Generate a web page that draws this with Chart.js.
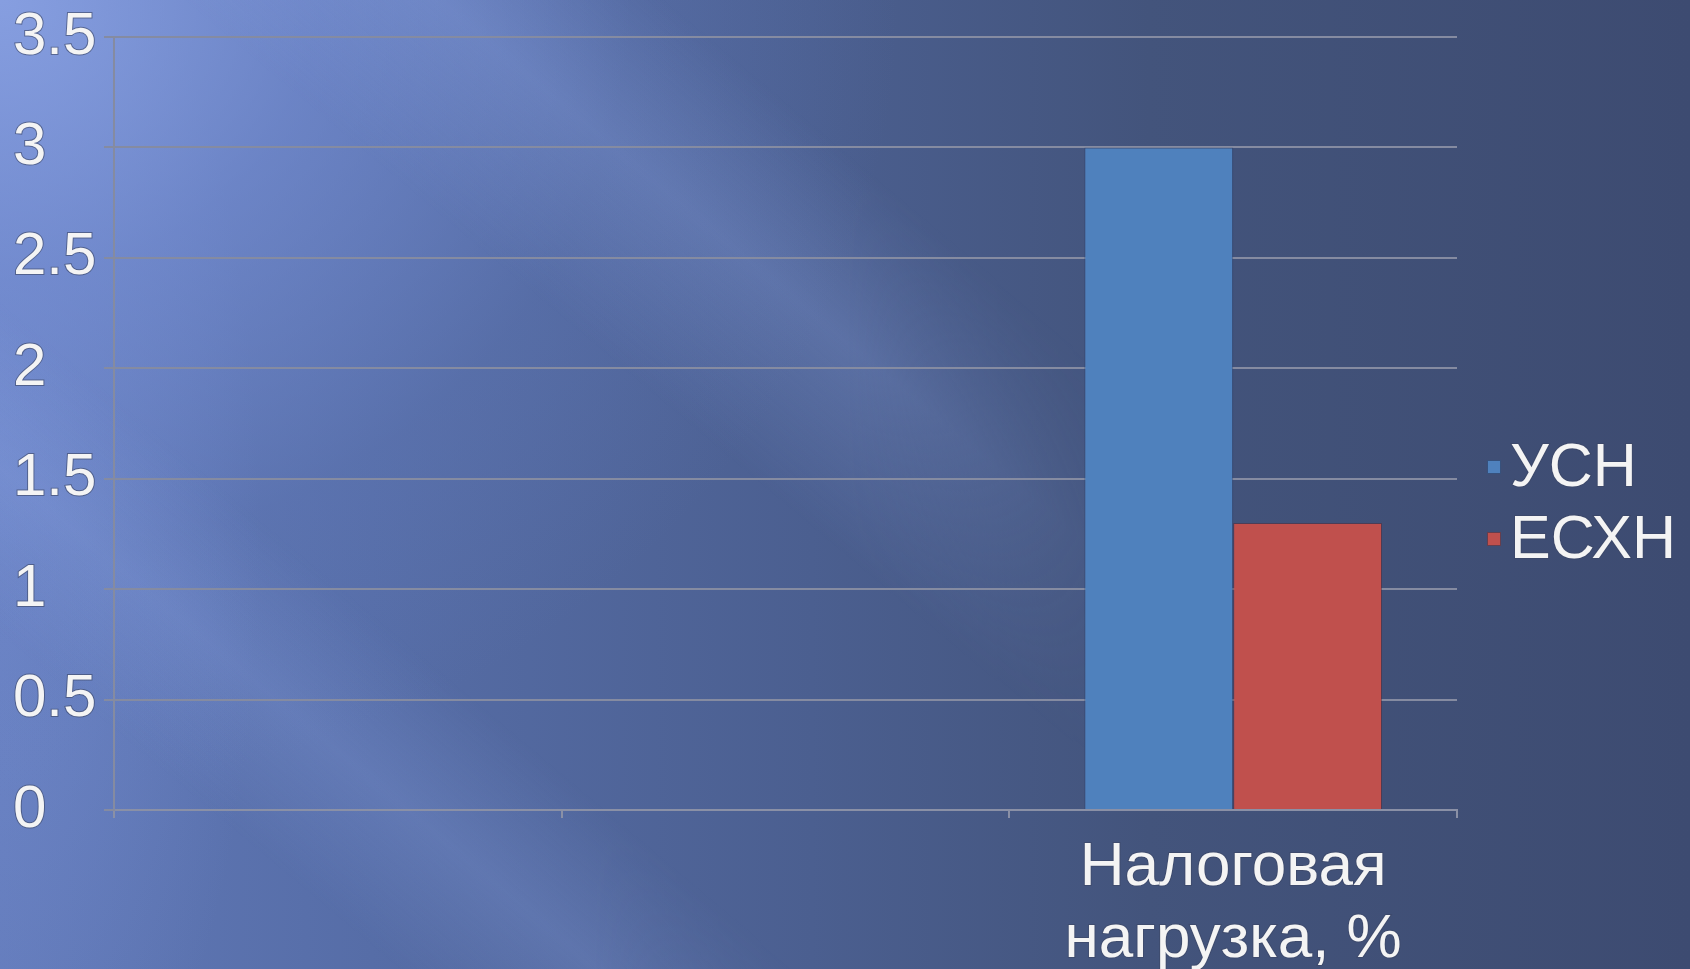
<!DOCTYPE html>
<html>
<head>
<meta charset="utf-8">
<script src="https://cdn.jsdelivr.net/npm/chart.js@4.4.1/dist/chart.umd.min.js"></script>
<style>
  html, body { margin: 0; padding: 0; width: 1690px; height: 969px; overflow: hidden; }
  body {
    background:
      radial-gradient(ellipse 900px 800px at 0% 0%, rgba(138,162,228,0.9) 0%, rgba(120,145,215,0.6) 35%, rgba(100,125,190,0.25) 70%, rgba(62,77,115,0) 100%),
      radial-gradient(ellipse 260px 700px at 0% 55%, rgba(125,150,220,0.45) 0%, rgba(125,150,220,0) 100%),
      linear-gradient(to right, #6179b8 0%, #566da7 22%, #4b5f90 48%, #43547c 68%, #3d4b71 100%);
  }
  .streak { position: absolute; left: 0; top: 0; width: 1690px; height: 969px; pointer-events: none; }
  #s1 {
    background: linear-gradient(40deg, rgba(150,175,240,0) 47%, rgba(150,175,240,0.24) 56%, rgba(150,175,240,0) 64%);
    -webkit-mask-image: linear-gradient(to right, #000 0%, #000 50%, transparent 68%);
    mask-image: linear-gradient(to right, #000 0%, #000 50%, transparent 68%);
  }
  #s2 {
    background: linear-gradient(40deg, rgba(150,175,240,0) 14%, rgba(150,175,240,0.2) 21%, rgba(150,175,240,0) 28%);
    -webkit-mask-image: linear-gradient(to right, #000 0%, #000 35%, transparent 55%);
    mask-image: linear-gradient(to right, #000 0%, #000 35%, transparent 55%);
  }
  #wrap { position: absolute; left: 0; top: 0; width: 1690px; height: 969px; }
</style>
</head>
<body>
<div class="streak" id="s1"></div>
<div class="streak" id="s2"></div>
<div id="wrap"><canvas id="c" width="1690" height="969"></canvas></div>
<script>
const categories = ['', '', ['Налоговая', 'нагрузка, %']];
const seriesNames = ['УСН', 'ЕСХН'];
const usnValues = [null, null, 3];
const eshnValues = [null, null, 1.3];
const seriesColors = ['#4f81bd', '#c0504d'];
const yTicks = [0, 0.5, 1, 1.5, 2, 2.5, 3, 3.5];

const FONT = "'Liberation Sans', Arial, sans-serif";

const legendPlugin = {
  id: 'customLegend',
  afterDraw(chart) {
    const ctx = chart.ctx;
    ctx.save();
    ctx.font = '61px ' + FONT;
    ctx.textBaseline = 'middle';
    ctx.textAlign = 'left';
    chart.data.datasets.forEach((ds, i) => {
      const y = 467 + i * 72;
      ctx.fillStyle = ds.backgroundColor;
      ctx.fillRect(1487, y - 7, 14, 14);
      ctx.strokeStyle = 'rgba(40,50,80,0.6)';
      ctx.lineWidth = 1;
      ctx.strokeRect(1487.5, y - 6.5, 13, 13);
      ctx.lineWidth = 2;
      ctx.strokeStyle = 'rgba(60,70,100,0.6)';
      ctx.strokeText(ds.label, 1510, y + 2);
      ctx.fillStyle = '#f4f4f4';
      ctx.fillText(ds.label, 1510, y + 2);
    });
    ctx.restore();
  }
};

new Chart(document.getElementById('c'), {
  type: 'bar',
  data: {
    labels: categories,
    datasets: [
      { label: seriesNames[0], data: usnValues, backgroundColor: seriesColors[0], borderColor: 'rgba(40,60,100,0.5)', borderWidth: 1 },
      { label: seriesNames[1], data: eshnValues, backgroundColor: seriesColors[1], borderColor: 'rgba(90,40,50,0.5)', borderWidth: 1 }
    ]
  },
  options: {
    responsive: false,
    animation: false,
    devicePixelRatio: 1,
    layout: { padding: { left: 13, top: 37, right: 233, bottom: 0 } },
    datasets: { bar: { categoryPercentage: 0.665, barPercentage: 1.0 } },
    plugins: { legend: { display: false }, tooltip: { enabled: false } },
    scales: {
      x: {
        offset: true,
        grid: { offset: true, drawOnChartArea: false, drawTicks: true, tickLength: 8, color: '#8a90a6', lineWidth: 2 },
        border: { display: true, color: '#8a90a6', width: 2 },
        ticks: {
          color: '#f4f4f4', font: { family: FONT, size: 62, lineHeight: 1.16 }, padding: 14,
          maxRotation: 0, autoSkip: false,
          textStrokeColor: 'rgba(60,70,100,0.6)', textStrokeWidth: 2
        },
        afterFit(scale) { scale.height = 159; }
      },
      y: {
        min: 0, max: 3.5,
        afterBuildTicks(scale) { scale.ticks = yTicks.map(v => ({ value: v })); },
        grid: { drawTicks: true, tickLength: 10, color: '#858ba1', lineWidth: 2 },
        border: { display: true, color: '#858ba1', width: 2 },
        ticks: {
          color: '#f4f4f4', font: { family: FONT, size: 60, lineHeight: 1.0 }, crossAlign: 'far', padding: 4,
          textStrokeColor: 'rgba(60,70,100,0.6)', textStrokeWidth: 2,
          callback: (v) => String(v)
        },
        afterFit(scale) { scale.width = 101; }
      }
    }
  },
  plugins: [legendPlugin]
});
</script>
</body>
</html>
